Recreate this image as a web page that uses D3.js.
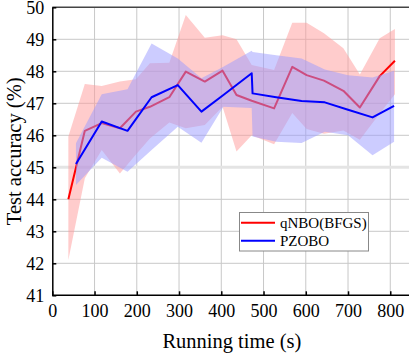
<!DOCTYPE html>
<html><head><meta charset="utf-8">
<script src="https://cdn.jsdelivr.net/npm/d3@7/dist/d3.min.js"></script>
<style>body{margin:0;background:#fff;}svg{display:block;}text{font-family:"Liberation Serif","Times New Roman",serif;fill:#000;}</style>
</head><body>
<svg id="chart" width="409" height="353"></svg>
<script>
// qNBO(BFGS) mean curve
const redTime = [38, 77, 117, 160, 198, 231, 277, 316, 361, 403, 436, 472, 525, 568, 602, 643, 689, 728, 775, 811];
const redMean = [44.0, 46.14, 46.38, 46.22, 46.74, 46.89, 47.19, 47.99, 47.68, 48.02, 47.26, 47.08, 46.84, 48.14, 47.88, 47.71, 47.39, 46.87, 47.85, 48.33];
// qNBO(BFGS) band
const redUpper = [45.96, 47.6, 47.54, 47.68, 47.75, 48.25, 48.27, 49.76, 49.05, 49.13, 49.0, 48.2, 48.04, 49.52, 49.52, 49.19, 48.72, 47.9, 49.03, 49.32];
const redLower = [42.1, 44.66, 45.54, 44.81, 45.4, 45.9, 46.4, 46.22, 46.32, 46.89, 45.49, 46.0, 45.72, 46.7, 46.2, 46.05, 46.15, 45.86, 46.68, 47.28];
// PZOBO mean curve
const blueTime = [56, 117, 178, 235, 297, 353, 405, 472, 474, 530, 590, 645, 700, 758, 809];
const blueMean = [45.1, 46.43, 46.14, 47.19, 47.57, 46.74, 47.26, 47.94, 47.31, 47.19, 47.07, 47.03, 46.8, 46.56, 46.92];
// PZOBO band
const blueUpper = [45.75, 47.28, 47.44, 48.87, 48.4, 47.78, 48.14, 48.64, 48.6, 48.5, 48.4, 48.06, 47.88, 47.81, 48.02];
const blueLower = [44.45, 45.3, 44.86, 45.54, 46.27, 45.77, 46.89, 46.85, 45.96, 45.8, 45.76, 46.11, 46.0, 45.38, 45.8];

const xTicks = [0, 100, 200, 300, 400, 500, 600, 700, 800];
const yTicks = [41, 42, 43, 44, 45, 46, 47, 48, 49, 50];
const seriesNames = ["qNBO(BFGS)", "PZOBO"];
const xLabel = "Running time (s)";
const yLabel = "Test accuracy (%)";

const svg = d3.select("#chart");
const L = 52.3, R = 411.4, T = 7.3, B = 295.3;
const x = d3.scaleLinear().domain([0, 850]).range([L, R]);
const y = d3.scaleLinear().domain([41, 50]).range([B, T]);

// grid
const g = svg.append("g");
g.selectAll("line.vg").data(xTicks.filter(d => d > 0)).join("line")
  .attr("x1", d => x(d)).attr("x2", d => x(d)).attr("y1", T).attr("y2", B)
  .attr("stroke", "#c8c8c8").attr("stroke-width", 1);
g.selectAll("line.hg").data(yTicks.filter(d => d > 41 && d < 50)).join("line")
  .attr("x1", L).attr("x2", R).attr("y1", d => y(d)).attr("y2", d => y(d))
  .attr("stroke", d => d === 45 ? "#e4e4e4" : "#c8c8c8").attr("stroke-width", d => d === 45 ? 3 : 1);

function bandData(t, lo, hi) { return t.map((d, i) => ({t: d, lo: lo[i], hi: hi[i]})); }
function lineData(t, m) { return t.map((d, i) => ({t: d, v: m[i]})); }
const area = d3.area().x(d => x(d.t)).y0(d => y(d.lo)).y1(d => y(d.hi));
const line = d3.line().x(d => x(d.t)).y(d => y(d.v));

svg.append("path").datum(bandData(redTime, redLower, redUpper)).attr("d", area)
  .attr("fill", "#ff9999").attr("fill-opacity", 0.5);
svg.append("path").datum(lineData(redTime, redMean)).attr("d", line)
  .attr("fill", "none").attr("stroke", "#ff0000").attr("stroke-width", 2).attr("stroke-linejoin", "round");
svg.append("path").datum(bandData(blueTime, blueLower, blueUpper)).attr("d", area)
  .attr("fill", "#9999ff").attr("fill-opacity", 0.5);
svg.append("path").datum(lineData(blueTime, blueMean)).attr("d", line)
  .attr("fill", "none").attr("stroke", "#0000ff").attr("stroke-width", 2).attr("stroke-linejoin", "round");

// frame top
svg.append("line").attr("x1", L).attr("x2", R).attr("y1", T).attr("y2", T).attr("stroke", "#444").attr("stroke-width", 1.5);

// axes
const xAxis = d3.axisBottom(x).tickValues(xTicks).tickSizeInner(-4).tickSizeOuter(0).tickPadding(9);
const yAxis = d3.axisLeft(y).tickValues(yTicks).tickSizeInner(-4).tickSizeOuter(0).tickPadding(8);
const gx = svg.append("g").attr("transform", `translate(0,${B})`).call(xAxis);
const gy = svg.append("g").attr("transform", `translate(${L},0)`).call(yAxis);
[gx, gy].forEach(a => {
  a.select(".domain").attr("stroke", "#000").attr("stroke-width", 1.5);
  a.selectAll(".tick line").attr("stroke", "#000").attr("stroke-width", 1.5);
  a.selectAll(".tick text").attr("font-family", "Liberation Serif").attr("font-size", 18).attr("fill", "#000");
});
gx.selectAll(".tick text").attr("dy", "0.71em");
gy.selectAll(".tick text").attr("dy", "0.34em");
gx.select(".domain").attr("d", `M${L},0H${R}`);

// axis labels
svg.append("text").attr("x", (L + R) / 2).attr("y", 348).attr("text-anchor", "middle")
  .attr("font-size", 20.5).text(xLabel);
svg.append("text").attr("transform", `translate(21,${(T + B) / 2}) rotate(-90)`).attr("text-anchor", "middle")
  .attr("font-size", 20.5).text(yLabel);

// legend
const lg = svg.append("g");
lg.append("rect").attr("x", 239.5).attr("y", 212.5).attr("width", 129).attr("height", 38.5)
  .attr("fill", "#fff").attr("stroke", "#888").attr("stroke-width", 1);
const colors = ["#ff0000", "#0000ff"];
seriesNames.forEach((n, i) => {
  const yy = 222.7 + i * 18;
  lg.append("line").attr("x1", 241).attr("x2", 275).attr("y1", yy).attr("y2", yy)
    .attr("stroke", colors[i]).attr("stroke-width", 2);
  lg.append("text").attr("x", 280).attr("y", yy + 5.2).attr("font-size", 15).text(n);
});
</script>
</body></html>
